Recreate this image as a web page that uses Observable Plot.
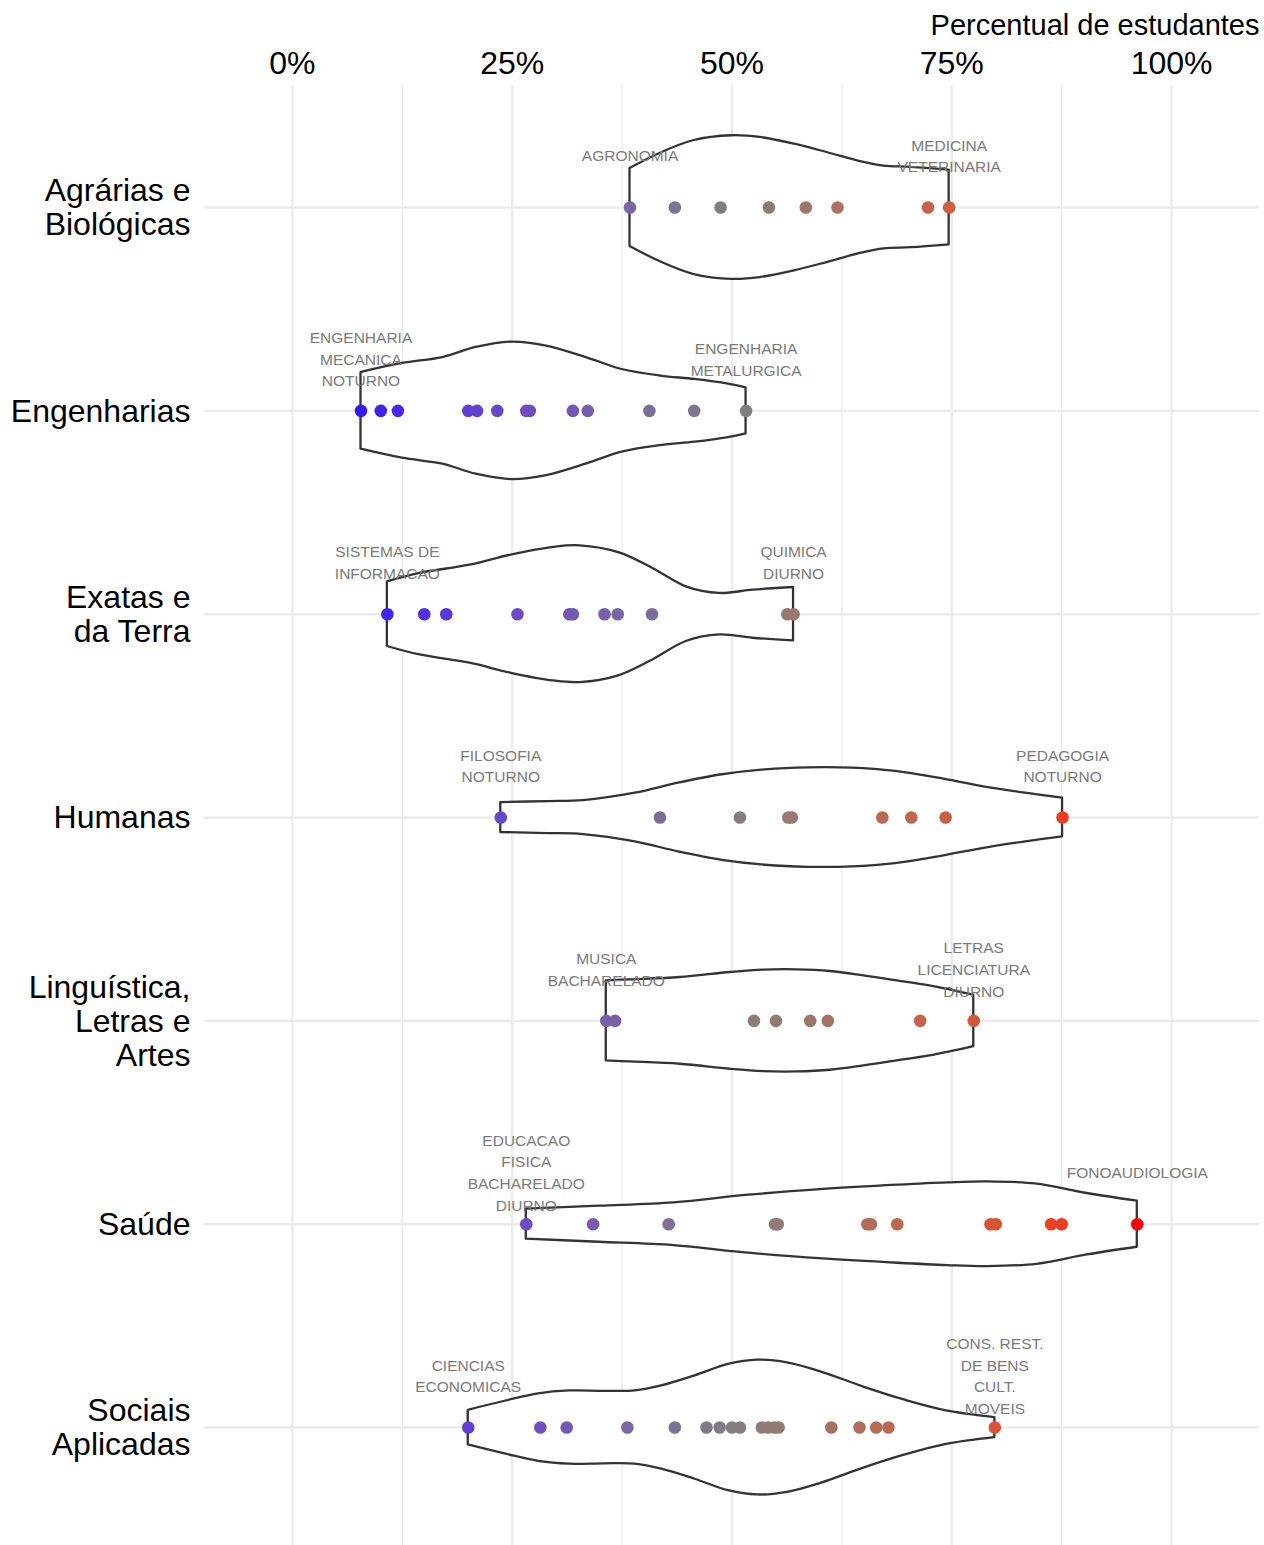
<!DOCTYPE html>
<html>
<head>
<meta charset="utf-8">
<script src="https://cdn.jsdelivr.net/npm/d3@7"></script>
<script src="https://cdn.jsdelivr.net/npm/@observablehq/plot@0.6"></script>
<style>
  body { margin: 0; background: #fff; }
  #chart svg { display: block; }
</style>
</head>
<body>
<div id="chart"></div>
<script>
// ---------- data ----------
const categories = [
  "Agrárias e\nBiológicas",
  "Engenharias",
  "Exatas e\nda Terra",
  "Humanas",
  "Linguística,\nLetras e\nArtes",
  "Saúde",
  "Sociais\nAplicadas"
];

// percentual de estudantes por curso (%)
const agrarias    = [38.4, 43.5, 48.7, 54.2, 58.4, 62.0, 72.3, 74.7];
const engenharias = [7.8, 10.05, 12.0, 20.0, 21.0, 23.3, 26.6, 27.0, 31.9, 33.6, 40.6, 45.7, 51.6];
const exatas      = [10.8, 15.0, 17.5, 25.6, 31.5, 31.9, 35.5, 37.0, 40.9, 56.3, 57.0];
const humanas     = [23.7, 41.8, 50.9, 56.4, 56.8, 67.1, 70.4, 74.3, 87.6];
const linguistica = [35.7, 36.7, 52.5, 55.0, 58.9, 60.9, 71.4, 77.5];
const saude       = [26.6, 34.2, 42.8, 54.9, 55.2, 65.4, 65.8, 68.8, 79.4, 80.0, 86.3, 87.5, 96.1];
const sociais     = [20.0, 28.2, 31.2, 38.1, 43.5, 47.1, 48.6, 50.0, 50.9, 53.4, 54.1, 54.8, 55.3, 61.3, 64.5, 66.4, 67.8, 79.9];

// violin outlines: [percent, relative density (max = 1)]
const violinAgrarias    = [[38.4,.544],[41.8,.753],[45.6,.930],[50.0,1.0],[53.2,.976],[57.1,.883],[60.9,.763],[64.7,.637],[67.3,.576],[70.4,.560],[74.7,.520]];
const violinEngenharias = [[7.8,.534],[12.5,.660],[17.1,.743],[20.9,.883],[25.0,.958],[28.9,.902],[33.5,.739],[37.5,.576],[41.9,.484],[45.8,.437],[49.6,.372],[51.6,.321]];
const violinExatas      = [[10.8,.450],[14.5,.568],[20.2,.683],[24.9,.823],[29.7,.930],[32.7,.953],[37.2,.855],[41.0,.637],[44.8,.381],[48.6,.289],[52.4,.335],[57.0,.372]];
const violinHumanas     = [[23.7,.209],[29.1,.223],[33.1,.237],[39.0,.339],[43.9,.478],[48.9,.596],[53.8,.665],[58.7,.693],[63.7,.688],[68.6,.642],[73.5,.548],[78.5,.432],[83.4,.339],[87.6,.269]];
const violinLinguistica = [[35.7,.558],[38.4,.572],[44.1,.604],[49.8,.674],[53.6,.707],[57.4,.711],[61.2,.688],[65.0,.628],[68.8,.558],[72.5,.488],[77.5,.358]];
const violinSaude       = [[26.6,.209],[34.9,.251],[43.4,.297],[51.9,.404],[60.4,.484],[68.9,.544],[74.5,.576],[79.1,.590],[84.7,.558],[90.4,.428],[96.1,.321]];
const violinSociais     = [[20.0,.241],[24.3,.370],[28.0,.470],[31.5,.510],[35.5,.505],[39.0,.510],[42.0,.580],[45.8,.720],[49.6,.879],[52.9,.939],[56.3,.902],[60.1,.777],[64.9,.568],[69.7,.381],[74.4,.233],[79.9,.139]];

const minLabels = [
  "AGRONOMIA",
  "ENGENHARIA\nMECANICA\nNOTURNO",
  "SISTEMAS DE\nINFORMACAO",
  "FILOSOFIA\nNOTURNO",
  "MUSICA\nBACHARELADO",
  "EDUCACAO\nFISICA\nBACHARELADO\nDIURNO",
  "CIENCIAS\nECONOMICAS"
];
const maxLabels = [
  "MEDICINA\nVETERINARIA",
  "ENGENHARIA\nMETALURGICA",
  "QUIMICA\nDIURNO",
  "PEDAGOGIA\nNOTURNO",
  "LETRAS\nLICENCIATURA\nDIURNO",
  "FONOAUDIOLOGIA",
  "CONS. REST.\nDE BENS\nCULT.\nMOVEIS"
];

const xTicks = [0, 25, 50, 75, 100];
const xMinorTicks = [12.5, 37.5, 62.5, 87.5];
const axisTitle = "Percentual de estudantes";

// ---------- tables ----------
const groupValues = [agrarias, engenharias, exatas, humanas, linguistica, saude, sociais];
const groupViolins = [violinAgrarias, violinEngenharias, violinExatas, violinHumanas, violinLinguistica, violinSaude, violinSociais];
const yTicks = categories.map((_, i) => i + 1);

const points = groupValues.flatMap((vals, i) => vals.map(v => ({group: i + 1, value: v})));
const labels = groupValues.flatMap((vals, i) => [
  {group: i + 1, value: d3.min(vals), text: minLabels[i]},
  {group: i + 1, value: d3.max(vals), text: maxLabels[i]}
]);

const halfWidth = 0.353; // violin half-width (in category units) at relative density 1
const violin = groupViolins.flatMap((rows, i) => rows.map(([x, d]) => ({
  group: i + 1, x,
  y1: i + 1 - halfWidth * d,
  y2: i + 1 + halfWidth * d
})));

// ---------- chart ----------
const font = "'Liberation Sans', Arial, Helvetica, sans-serif";
const chart = Plot.plot({
  width: 1264,
  height: 1545,
  marginTop: 85,
  marginBottom: 0,
  marginLeft: 204,
  marginRight: 5,
  style: {fontFamily: font, background: "white", color: "black", overflow: "visible"},
  x: {domain: [-10, 110], axis: null},
  y: {domain: [0.4, 7.58], reverse: true, axis: null},
  color: {
    type: "diverging",
    pivot: 50,
    interpolate: d3.piecewise(d3.interpolateLab, ["blue", "#7f7f7f", "red"])
  },
  marks: [
    Plot.gridX(xMinorTicks, {stroke: "#ebebeb", strokeOpacity: 1, strokeWidth: 1.4}),
    Plot.gridX(xTicks, {stroke: "#ebebeb", strokeOpacity: 1, strokeWidth: 2.4}),
    Plot.gridY(yTicks, {stroke: "#ebebeb", strokeOpacity: 1, strokeWidth: 2.4}),
    Plot.areaY(violin, {x: "x", y1: "y1", y2: "y2", z: "group", fill: "white", stroke: "#333333",
      strokeWidth: 2.3, curve: "catmull-rom"}),
    Plot.dot(points, {x: "value", y: "group", fill: "value", r: 6.3, stroke: null}),
    Plot.text(labels, {x: "value", y: "group", text: "text", dy: -53, lineAnchor: "middle", textAnchor: "middle",
      fontSize: 15.5, lineHeight: 1.4, fill: "#7a7a7a"}),
    Plot.axisX({anchor: "top", ticks: xTicks, tickFormat: d => d + "%", tickSize: 0, tickPadding: 12,
      fontSize: 32, label: null}),
    Plot.axisY({anchor: "left", ticks: yTicks, tickFormat: i => categories[i - 1], tickSize: 0, tickPadding: 14,
      fontSize: 32, lineHeight: 1.06, label: null}),
    Plot.text([axisTitle], {frameAnchor: "top-right", dy: -60, textAnchor: "end", lineAnchor: "middle",
      fontSize: 29, fill: "black"})
  ]
});
document.getElementById("chart").append(chart);
</script>
</body>
</html>
